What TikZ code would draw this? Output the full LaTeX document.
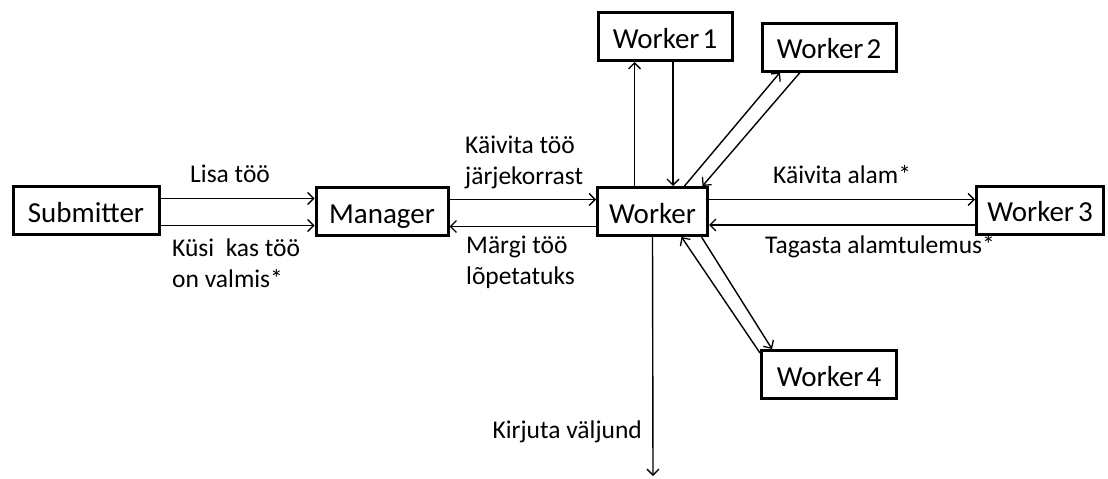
\documentclass[tikz,border=0pt]{standalone}
\usepackage{fontspec}
\setmainfont{Carlito}
\usetikzlibrary{arrows.meta}

\begin{document}
\begin{tikzpicture}[x=1pt,y=-1pt,
    box/.style={draw,line width=3pt,minimum height=48pt,inner xsep=8pt,inner ysep=0pt,
        text height=24pt,text depth=1pt,font=\fontsize{29}{32}\selectfont},
    lbl/.style={inner sep=0pt,align=left,font=\fontsize{25.5}{31}\selectfont},
    arr/.style={line width=1.4pt,-{Straight Barb[length=6pt,width=12pt,line width=1.3pt]}}]
    \useasboundingbox (0,0) rectangle (1108,479);

    % Boxes
    \node[box,minimum width=146pt] (sub) at (86,210.5) {Submitter};
    \node[box,minimum width=132pt] (mgr) at (382,211.5) {Manager};
    \node[box,minimum width=110pt] (wk) at (652.5,211.5) {Worker};
    \node[box,minimum width=134pt] (w1) at (665,36.5) {Worker\kern3pt1};
    \node[box,minimum width=134pt] (w2) at (829,47) {Worker\kern3pt2};
    \node[box,minimum width=127pt] (w3) at (1040,210) {Worker\kern4pt3};
    \node[box,minimum width=135pt] (w4) at (829,374.5) {Worker\kern3pt4};
    \coordinate (out) at (653,476);

    % Submitter and Manager
    \draw[arr] ([yshift=12pt]sub.east) -- ([yshift=12pt]sub.east -| mgr.west);
    \draw[arr] ([yshift=-15pt]sub.east) -- ([yshift=-15pt]sub.east -| mgr.west);
    \node[lbl,anchor=base west] (lisa) at (190,182) {Lisa töö};
    \node[lbl,anchor=base west] (kysi) at (172,287) {Küsi\ \ kas töö\\on valmis*};

    % Manager and Worker
    \draw[arr] ([yshift=12pt]mgr.east) -- ([yshift=12pt]mgr.east -| wk.west);
    \draw[arr] ([yshift=-15pt]wk.west) -- ([yshift=-15pt]wk.west -| mgr.east);
    \node[lbl,anchor=base west] (kaivita) at (465,184) {Käivita töö\\järjekorrast};
    \node[lbl,anchor=base west] (margi) at (466,284) {Märgi töö\\lõpetatuks};

    % Worker and Worker 1
    \draw[arr] ([xshift=-18pt]wk.north) -- ([xshift=-18pt]wk.north |- w1.south);
    \draw[arr] ([xshift=8pt]w1.south) -- ([xshift=8pt]w1.south |- wk.north);

    % Worker and Worker 2
    \draw[arr] ([xshift=32pt]wk.north) -- ([xshift=-49pt]w2.south);
    \draw[arr] ([xshift=-29pt]w2.south) -- ([xshift=50pt]wk.north);

    % Worker and Worker 3
    \draw[arr] ([yshift=12pt]wk.east) -- ([yshift=12pt]wk.east -| w3.west);
    \draw[arr] ([yshift=-15pt]w3.west) -- ([yshift=-15pt]w3.west -| wk.east);
    \node[lbl,anchor=base west] (alam) at (773,183) {Käivita alam*};
    \node[lbl,anchor=base west] (tagasta) at (765,253) {Tagasta alamtulemus*};

    % Worker and Worker 4
    \draw[arr] ([yshift=-4pt]w4.north west) -- ([xshift=29pt]wk.south);
    \draw[arr] ([xshift=49pt]wk.south) -- ([xshift=12pt]w4.north west);

    % Output
    \draw[arr] (wk.south) -- (out);
    \node[lbl,anchor=base east] (kirjuta) at (642,438) {Kirjuta väljund};
\end{tikzpicture}
\end{document}
